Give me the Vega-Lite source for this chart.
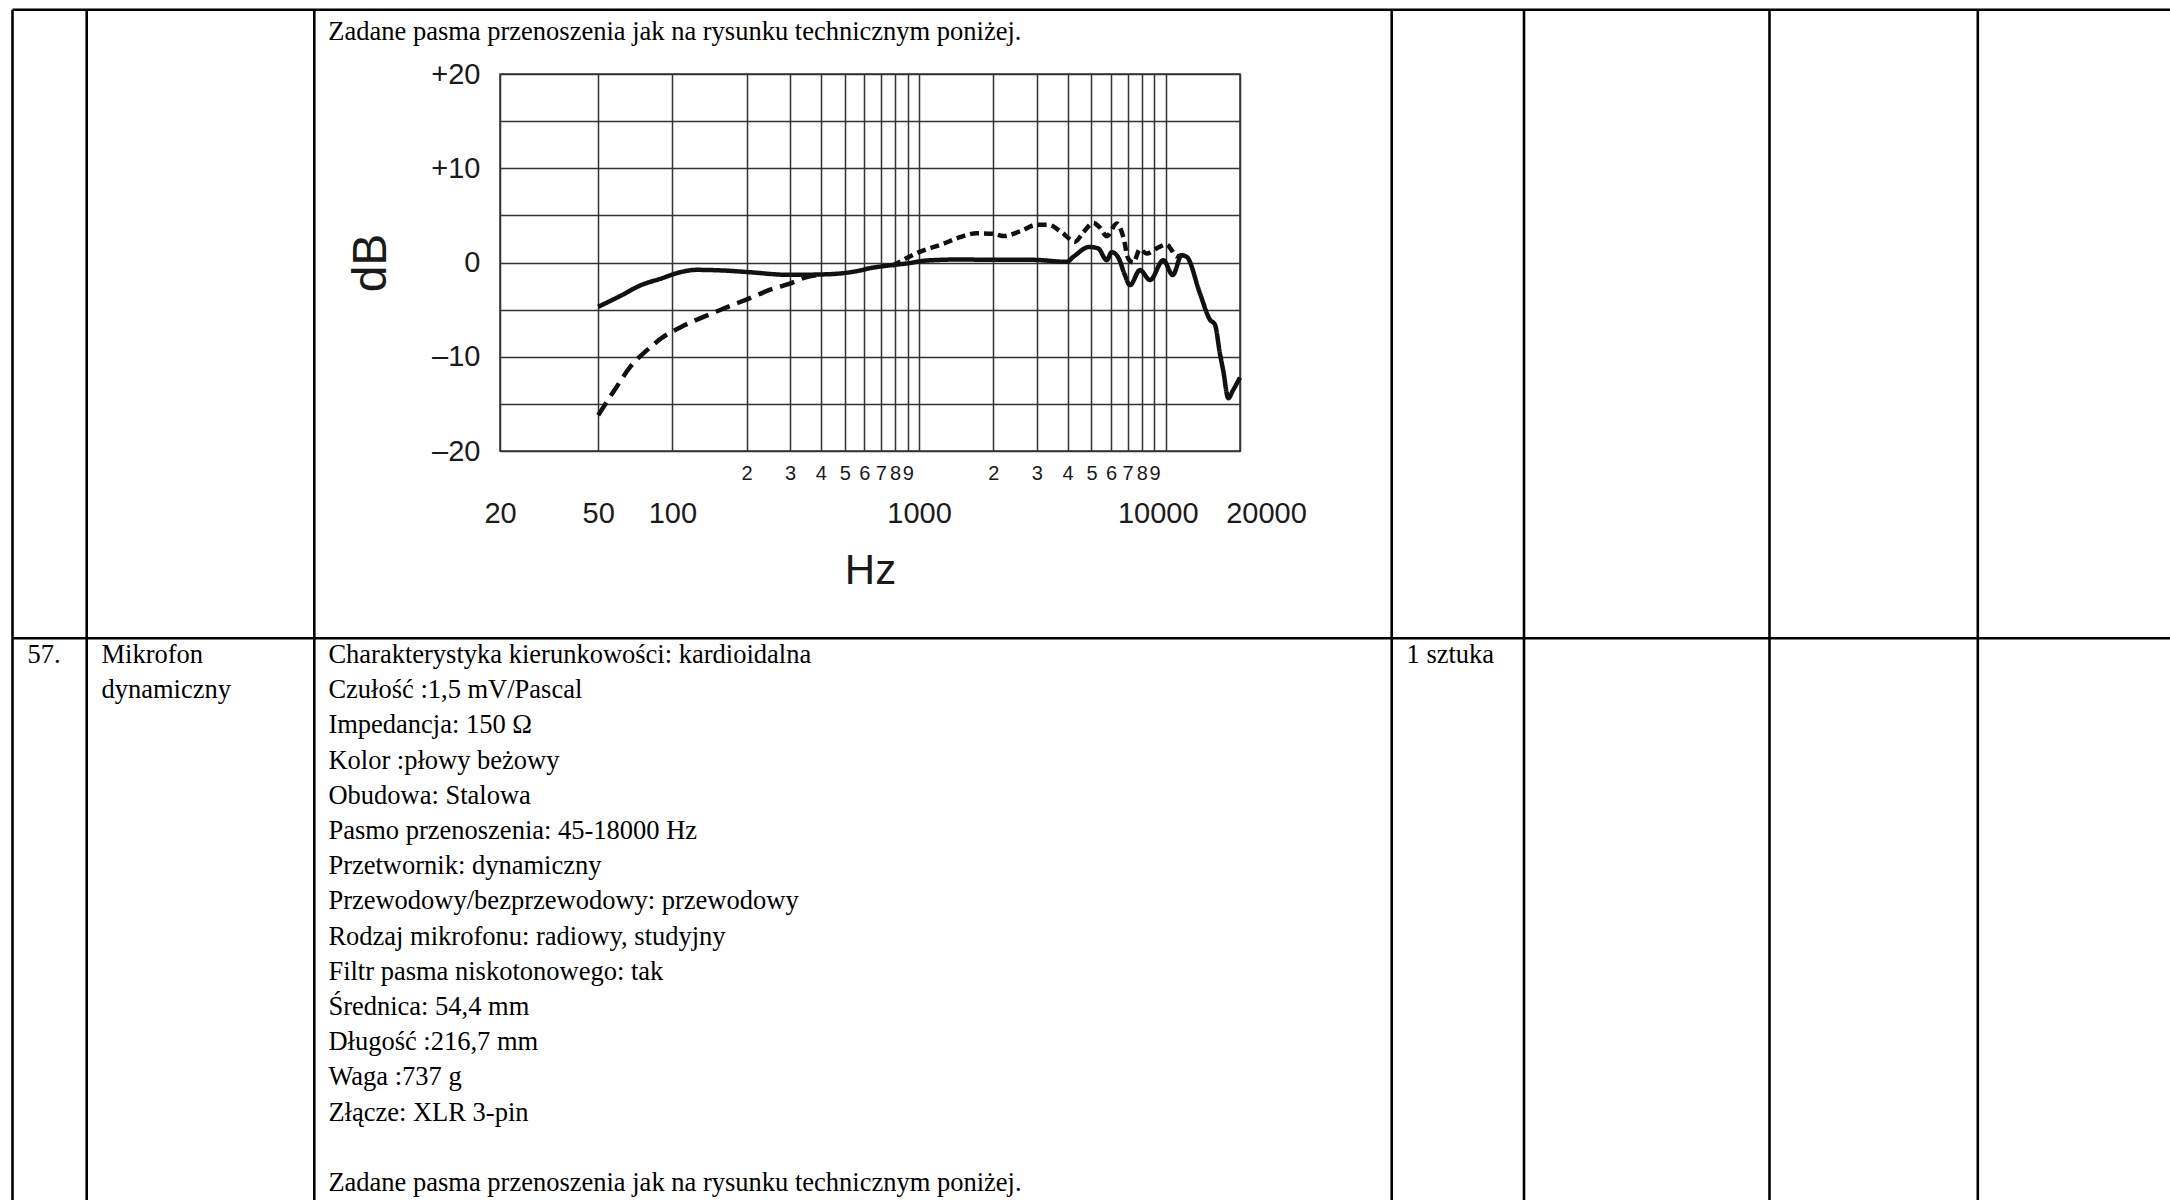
{
  "$schema": "https://vega.github.io/schema/vega-lite/v6.json",
  "width": 740,
  "height": 377,
  "autosize": {"type": "none"},
  "padding": {"left": 500, "top": 74, "right": 930, "bottom": 749},
  "background": "white",
  "config": {"view": {"stroke": "#333333", "strokeWidth": 1.5}},
  "datasets": {
    "response": [
      {"curve": "flat", "hz": 50, "db": -4.7},
      {"curve": "flat", "hz": 62, "db": -3.5},
      {"curve": "flat", "hz": 74, "db": -2.44},
      {"curve": "flat", "hz": 90, "db": -1.7},
      {"curve": "flat", "hz": 108, "db": -1.02},
      {"curve": "flat", "hz": 125, "db": -0.78},
      {"curve": "flat", "hz": 161, "db": -0.85},
      {"curve": "flat", "hz": 203, "db": -1.02},
      {"curve": "flat", "hz": 297, "db": -1.31},
      {"curve": "flat", "hz": 400, "db": -1.27},
      {"curve": "flat", "hz": 504, "db": -1.1},
      {"curve": "flat", "hz": 576, "db": -0.85},
      {"curve": "flat", "hz": 632, "db": -0.6},
      {"curve": "flat", "hz": 701, "db": -0.42},
      {"curve": "flat", "hz": 908, "db": -0.07},
      {"curve": "flat", "hz": 1074, "db": 0.21},
      {"curve": "flat", "hz": 1465, "db": 0.32},
      {"curve": "flat", "hz": 1988, "db": 0.28},
      {"curve": "flat", "hz": 2896, "db": 0.28},
      {"curve": "flat", "hz": 3968, "db": 0.07},
      {"curve": "flat", "hz": 4220, "db": 0.6},
      {"curve": "flat", "hz": 4898, "db": 1.65},
      {"curve": "flat", "hz": 5320, "db": 1.5},
      {"curve": "flat", "hz": 5763, "db": 0.25},
      {"curve": "flat", "hz": 6040, "db": 1.1},
      {"curve": "flat", "hz": 6430, "db": 0.5},
      {"curve": "flat", "hz": 6800, "db": -1.2},
      {"curve": "flat", "hz": 7162, "db": -2.4},
      {"curve": "flat", "hz": 7863, "db": -0.8},
      {"curve": "flat", "hz": 8634, "db": -1.86},
      {"curve": "flat", "hz": 9774, "db": 0.25},
      {"curve": "flat", "hz": 10672, "db": -1.33},
      {"curve": "flat", "hz": 11604, "db": 0.77},
      {"curve": "flat", "hz": 12160, "db": 0.6},
      {"curve": "flat", "hz": 13770, "db": -3.3},
      {"curve": "flat", "hz": 15112, "db": -6.07},
      {"curve": "flat", "hz": 15832, "db": -6.6},
      {"curve": "flat", "hz": 16590, "db": -9.7},
      {"curve": "flat", "hz": 17110, "db": -11.5},
      {"curve": "flat", "hz": 17930, "db": -14.4},
      {"curve": "flat", "hz": 18700, "db": -13.6},
      {"curve": "flat", "hz": 20000, "db": -12.2},

      {"curve": "bass", "hz": 50, "db": -16.2},
      {"curve": "bass", "hz": 59.4, "db": -13.2},
      {"curve": "bass", "hz": 67.3, "db": -11.1},
      {"curve": "bass", "hz": 78.7, "db": -9.33},
      {"curve": "bass", "hz": 91.8, "db": -7.9},
      {"curve": "bass", "hz": 108, "db": -6.86},
      {"curve": "bass", "hz": 133, "db": -5.8},
      {"curve": "bass", "hz": 161, "db": -4.9},
      {"curve": "bass", "hz": 203, "db": -3.85},
      {"curve": "bass", "hz": 255, "db": -2.8},
      {"curve": "bass", "hz": 297, "db": -2.26},
      {"curve": "bass", "hz": 350, "db": -1.55},
      {"curve": "bass", "hz": 400, "db": -1.28},

      {"curve": "presence", "hz": 780, "db": -0.35},
      {"curve": "presence", "hz": 918, "db": 0.64},
      {"curve": "presence", "hz": 1000, "db": 1.1},
      {"curve": "presence", "hz": 1254, "db": 1.98},
      {"curve": "presence", "hz": 1466, "db": 2.69},
      {"curve": "presence", "hz": 1712, "db": 3.1},
      {"curve": "presence", "hz": 2000, "db": 3.04},
      {"curve": "presence", "hz": 2194, "db": 2.8},
      {"curve": "presence", "hz": 2566, "db": 3.3},
      {"curve": "presence", "hz": 2998, "db": 4.0},
      {"curve": "presence", "hz": 3340, "db": 4.0},
      {"curve": "presence", "hz": 3786, "db": 3.2},
      {"curve": "presence", "hz": 4286, "db": 2.2},
      {"curve": "presence", "hz": 4632, "db": 3.2},
      {"curve": "presence", "hz": 5085, "db": 4.2},
      {"curve": "presence", "hz": 5412, "db": 3.7},
      {"curve": "presence", "hz": 5763, "db": 2.8},
      {"curve": "presence", "hz": 6326, "db": 4.15},
      {"curve": "presence", "hz": 6730, "db": 2.7},
      {"curve": "presence", "hz": 7052, "db": 0.4},
      {"curve": "presence", "hz": 7388, "db": 0.0},
      {"curve": "presence", "hz": 7863, "db": 1.4},
      {"curve": "presence", "hz": 8370, "db": 0.95},
      {"curve": "presence", "hz": 9190, "db": 1.5},
      {"curve": "presence", "hz": 10090, "db": 1.9},
      {"curve": "presence", "hz": 10572, "db": 1.3},
      {"curve": "presence", "hz": 11076, "db": 0.65},
      {"curve": "presence", "hz": 11604, "db": 0.77}
    ],
    "tableRules": [
      {"x1": 12.5, "x2": 12.5, "y1": 9.8, "y2": 1200},
      {"x1": 86.7, "x2": 86.7, "y1": 9.8, "y2": 1200},
      {"x1": 314.3, "x2": 314.3, "y1": 9.8, "y2": 1200},
      {"x1": 1391.7, "x2": 1391.7, "y1": 9.8, "y2": 1200},
      {"x1": 1524, "x2": 1524, "y1": 9.8, "y2": 1200},
      {"x1": 1769.5, "x2": 1769.5, "y1": 9.8, "y2": 1200},
      {"x1": 1977.8, "x2": 1977.8, "y1": 9.8, "y2": 1200},
      {"x1": 12.5, "x2": 2170, "y1": 9.8, "y2": 9.8},
      {"x1": 12.5, "x2": 2170, "y1": 638.3, "y2": 638.3}
    ],
    "tableText": [
      {"x": 328.3, "y": 40, "text": "Zadane pasma przenoszenia jak na rysunku technicznym poniżej."},
      {"x": 27.6, "y": 663, "text": "57."},
      {"x": 101.5, "y": 663, "text": "Mikrofon\ndynamiczny"},
      {"x": 328.4, "y": 663, "text": "Charakterystyka kierunkowości: kardioidalna\nCzułość :1,5 mV/Pascal\nImpedancja: 150 Ω\nKolor :płowy beżowy\nObudowa: Stalowa\nPasmo przenoszenia: 45-18000 Hz\nPrzetwornik: dynamiczny\nPrzewodowy/bezprzewodowy: przewodowy\nRodzaj mikrofonu: radiowy, studyjny\nFiltr pasma niskotonowego: tak\nŚrednica: 54,4 mm\nDługość :216,7 mm\nWaga :737 g\nZłącze: XLR 3-pin"},
      {"x": 328.4, "y": 1191, "text": "Zadane pasma przenoszenia jak na rysunku technicznym poniżej."},
      {"x": 1406.5, "y": 663, "text": "1 sztuka"}
    ]
  },
  "layer": [
    {
      "layer": [
        {
          "data": {"name": "tableRules"},
          "mark": {"type": "rule", "stroke": "#000000", "strokeWidth": 2.6},
          "encoding": {
            "x": {"field": "x1", "type": "quantitative", "scale": {"domain": [500, 1240], "nice": false, "zero": false}, "axis": null},
            "x2": {"field": "x2"},
            "y": {"field": "y1", "type": "quantitative", "scale": {"domain": [74, 451], "reverse": true, "nice": false, "zero": false}, "axis": null},
            "y2": {"field": "y2"}
          }
        },
        {
          "data": {"name": "tableText"},
          "mark": {"type": "text", "font": "Liberation Serif", "fontSize": 26.5, "align": "left", "baseline": "alphabetic", "lineBreak": "\n", "lineHeight": 35.2, "color": "#000000"},
          "encoding": {
            "x": {"field": "x", "type": "quantitative", "scale": {"domain": [500, 1240], "nice": false, "zero": false}, "axis": null},
            "y": {"field": "y", "type": "quantitative", "scale": {"domain": [74, 451], "reverse": true, "nice": false, "zero": false}, "axis": null},
            "text": {"field": "text"}
          }
        }
      ]
    },
    {
      "data": {"name": "response"},
      "mark": {"type": "line", "stroke": "#111111", "strokeWidth": 4.5, "interpolate": "monotone", "strokeCap": "butt"},
      "encoding": {
        "x": {
          "field": "hz",
          "type": "quantitative",
          "scale": {"type": "log", "domain": [20, 20000], "nice": false},
          "axis": {
            "values": [20, 50, 100, 200, 300, 400, 500, 600, 700, 800, 900, 1000, 2000, 3000, 4000, 5000, 6000, 7000, 8000, 9000, 10000, 20000],
            "grid": true,
            "gridColor": "#333333",
            "gridWidth": 1.5,
            "domain": false,
            "ticks": false,
            "tickSize": 0,
            "labelOverlap": false,
            "labelFlush": false,
            "labelBound": false,
            "labelFont": "Liberation Sans",
            "labelColor": "#1a1a1a",
            "labelExpr": "datum.value > 100 && datum.value < 1000 ? '' + round(datum.value / 100) : datum.value > 1000 && datum.value < 10000 ? '' + round(datum.value / 1000) : '' + datum.value",
            "labelFontSize": {"condition": {"test": "datum.value == 20 || datum.value == 50 || datum.value == 100 || datum.value == 1000 || datum.value == 10000 || datum.value == 20000", "value": 29}, "value": 20},
            "labelPadding": {"condition": {"test": "datum.value == 20 || datum.value == 50 || datum.value == 100 || datum.value == 1000 || datum.value == 10000 || datum.value == 20000", "value": 48}, "value": 12},
            "labelOffset": {"condition": [{"test": "datum.value == 20000", "value": 26}, {"test": "datum.value == 10000", "value": -8}], "value": 0},
            "title": "Hz",
            "titleFont": "Liberation Sans",
            "titleFontSize": 42,
            "titleFontWeight": "normal",
            "titleColor": "#1a1a1a",
            "titlePadding": 22
          }
        },
        "y": {
          "field": "db",
          "type": "quantitative",
          "scale": {"domain": [-20, 20], "nice": false},
          "axis": {
            "values": [-20, -15, -10, -5, 0, 5, 10, 15, 20],
            "grid": true,
            "gridColor": "#333333",
            "gridWidth": 1.5,
            "domain": false,
            "ticks": false,
            "tickSize": 0,
            "labelOverlap": false,
            "labelFlush": false,
            "labelBound": false,
            "labelFont": "Liberation Sans",
            "labelColor": "#1a1a1a",
            "labelFontSize": 29,
            "labelPadding": 20,
            "labelExpr": "datum.value % 10 != 0 ? '' : datum.value > 0 ? '+' + datum.value : datum.value < 0 ? '–' + abs(datum.value) : '0'",
            "title": "dB",
            "titleFont": "Liberation Sans",
            "titleFontSize": 48,
            "titleFontWeight": "normal",
            "titleColor": "#1a1a1a",
            "titlePadding": 35
          }
        },
        "strokeDash": {
          "field": "curve",
          "type": "nominal",
          "scale": {"domain": ["flat", "bass", "presence"], "range": [[1, 0], [15, 8], [9, 5]]},
          "legend": null
        }
      }
    }
  ],
  "resolve": {"scale": {"x": "independent", "y": "independent"}}
}
